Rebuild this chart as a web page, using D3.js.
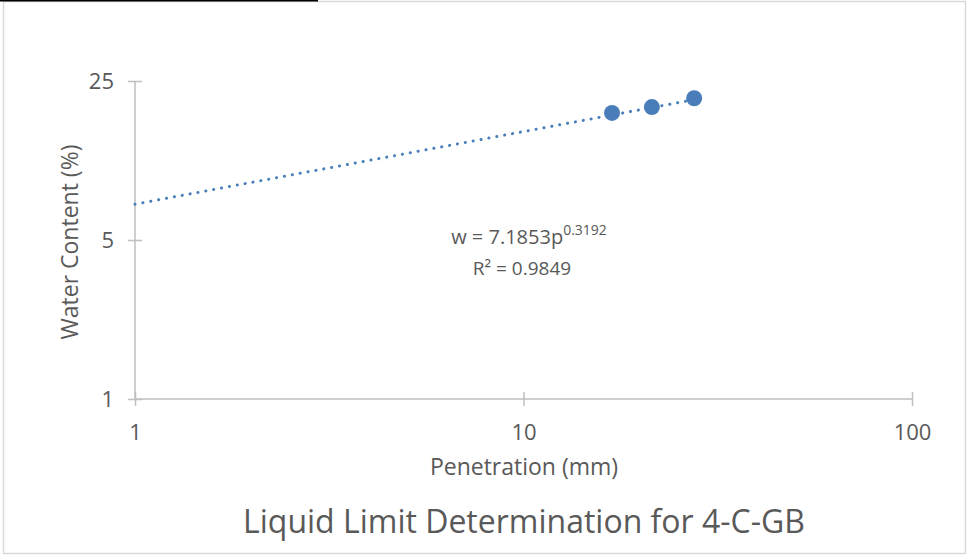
<!DOCTYPE html>
<html>
<head>
<meta charset="utf-8">
<script src="https://cdn.jsdelivr.net/npm/d3@7"></script>
<style>
  body { margin: 0; background: #fff; }
  text { font-family: "Open Sans", "Noto Sans", sans-serif; fill: #595959; }
</style>
</head>
<body>
<div id="chart"></div>
<script>
// data
var penetration = [16.9, 21.4, 27.5];
var waterContent = [18.1, 19.2, 21.0];
var xTicks = [1, 10, 100];
var yTicks = [1, 5, 25];
var trendA = 7.1853, trendB = 0.3192;
var trendRange = [1, 27.5];

var width = 968, height = 560;
var margin = {top: 81, bottom: 161, left: 135, right: 56};

var svg = d3.select('#chart').append('svg')
    .attr('width', width)
    .attr('height', height);

// outer frame
svg.append('rect')
    .attr('x', 3.5).attr('y', 1.5)
    .attr('width', 962).attr('height', 552)
    .attr('fill', 'none').attr('stroke', '#d9d9d9').attr('stroke-width', 1.5);
svg.append('line')
    .attr('x1', 0).attr('x2', 318).attr('y1', 0.5).attr('y2', 0.5)
    .attr('stroke', '#000').attr('stroke-width', 2);

var xScale = d3.scaleLog().domain([1, 100]).range([margin.left, width - margin.right]);
var yScale = d3.scaleLog().base(5).domain([1, 25]).range([height - margin.bottom, margin.top]);

var axisColor = '#bfbfbf';

// y axis
var yAxis = svg.append('g')
    .attr('transform', `translate(${margin.left},0)`)
    .call(d3.axisLeft(yScale).tickValues(yTicks).tickFormat(d3.format('d')).tickSize(7).tickPadding(14));
yAxis.selectAll('.tick line').attr('x2', 7).attr('x1', -7);

// x axis
var xAxis = svg.append('g')
    .attr('transform', `translate(0,${height - margin.bottom})`)
    .call(d3.axisBottom(xScale).tickValues(xTicks).tickFormat(d3.format('d')).tickSize(7).tickPadding(18));
xAxis.selectAll('.tick line').attr('y1', -7).attr('y2', 7);

yAxis.select('.domain').attr('d', `M0,${yScale(25)}V${yScale(1)}`);
xAxis.select('.domain').attr('d', `M${xScale(1)},0H${xScale(100)}`);
svg.selectAll('.domain').attr('stroke', axisColor).attr('stroke-width', 1.5);
svg.selectAll('.tick line').attr('stroke', axisColor).attr('stroke-width', 1.5);
svg.selectAll('.tick text').style('font-size', '22px').attr('fill', '#595959');
svg.selectAll('g').attr('font-family', null);

// trendline (power fit)
var trendPts = d3.range(0, 61).map(function(i) {
  var p = Math.pow(10, Math.log10(trendRange[0]) + i / 60 * (Math.log10(trendRange[1]) - Math.log10(trendRange[0])));
  return [p, trendA * Math.pow(p, trendB)];
});
svg.append('path')
    .datum(trendPts)
    .attr('d', d3.line().x(function(d){return xScale(d[0]);}).y(function(d){return yScale(d[1]);}))
    .attr('fill', 'none')
    .attr('stroke', '#4a7ebb')
    .attr('stroke-width', 3)
    .attr('stroke-linecap', 'round')
    .attr('stroke-dasharray', '0.1 7.9');

// markers
svg.selectAll('circle.pt')
    .data(penetration)
    .enter().append('circle')
    .attr('class', 'pt')
    .attr('cx', function(d){return xScale(d);})
    .attr('cy', function(d, i){return yScale(waterContent[i]);})
    .attr('r', 8)
    .attr('fill', '#4a7ebb');

// equation label
var eq = svg.append('text').attr('x', 529).attr('y', 244).attr('text-anchor', 'middle').style('font-size', '20px');
eq.append('tspan').text('w = 7.1853p');
eq.append('tspan').attr('dy', -9).style('font-size', '14px').text('0.3192');
svg.append('text').attr('x', 522).attr('y', 275).attr('text-anchor', 'middle').style('font-size', '19px').text('R² = 0.9849');

// axis titles
svg.append('text')
    .attr('transform', 'translate(78,242) rotate(-90)')
    .attr('text-anchor', 'middle')
    .style('font-size', '23px')
    .text('Water Content (%)');
svg.append('text')
    .attr('x', 524).attr('y', 475)
    .attr('text-anchor', 'middle')
    .style('font-size', '23px')
    .text('Penetration (mm)');

// chart title
svg.append('text')
    .attr('x', 524).attr('y', 533)
    .attr('text-anchor', 'middle')
    .style('font-size', '32px')
    .text('Liquid Limit Determination for 4-C-GB');
</script>
</body>
</html>
